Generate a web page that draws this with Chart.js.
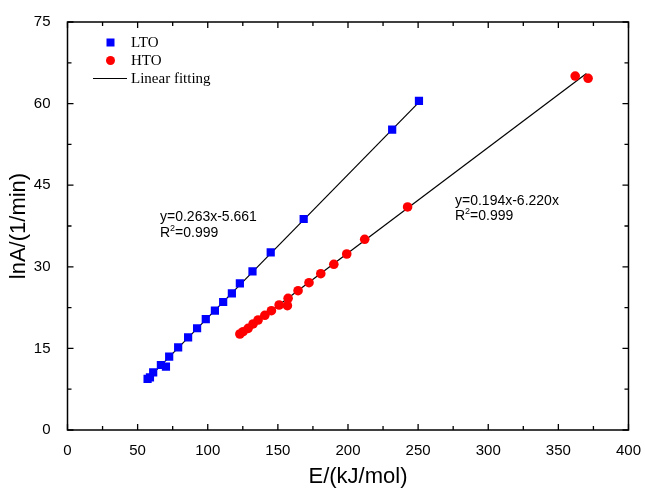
<!DOCTYPE html>
<html>
<head>
<meta charset="utf-8">
<script src="https://cdn.jsdelivr.net/npm/chart.js@4"></script>
<style>
  html, body { margin: 0; padding: 0; background: #fff; }
  #wrap { width: 645px; height: 489px; }
</style>
</head>
<body>
<div id="wrap"><canvas id="grafico" width="645" height="489"></canvas></div>
<script>
// LTO points
var ltoE = [57.1, 58.8, 61.1, 66.6, 70.2, 72.5, 78.9, 86.0, 92.4, 98.6, 105.1, 111.0, 117.2, 122.9, 131.9, 144.9, 168.4, 231.5, 250.6];
var ltoLnA = [9.38, 9.69, 10.61, 11.95, 11.64, 13.47, 15.2, 17.04, 18.7, 20.4, 21.93, 23.53, 25.13, 26.97, 29.17, 32.67, 38.79, 55.2, 60.5];

// HTO points
var htoE = [122.9, 125.2, 128.8, 132.3, 135.9, 140.7, 145.4, 150.9, 157.3, 156.8, 164.4, 172.2, 180.6, 189.9, 199.1, 211.9, 242.5, 362.0, 371.2];
var htoLnA = [17.65, 18.07, 18.69, 19.49, 20.22, 21.08, 21.93, 22.98, 24.21, 22.85, 25.61, 27.08, 28.73, 30.46, 32.35, 35.06, 41.0, 65.07, 64.65];

// fitted lines (end points)
var ltoFitE = [56.7, 251.0];
var ltoFitLnA = [9.25, 60.35];
var htoFitE = [123.0, 370.0];
var htoFitLnA = [17.6, 65.55];

var xTicks = [0, 50, 100, 150, 200, 250, 300, 350, 400];
var yTicks = [0, 15, 30, 45, 60, 75];

var legendLabels = ["LTO", "HTO", "Linear fitting"];
var eqLto = ["y=0.263x-5.661", "0.999"];
var eqHto = ["y=0.194x-6.220x", "0.999"];

function pares(xs, ys) {
    var out = [];
    for (var i = 0; i < xs.length; i++) {
        out.push({ x: xs[i], y: ys[i] });
    }
    return out;
}

function escreveR2(ctx, x, y, valor) {
    ctx.font = "14px 'Liberation Sans', Arial, sans-serif";
    ctx.fillText("R", x, y);
    var w = ctx.measureText("R").width;
    ctx.font = "9px 'Liberation Sans', Arial, sans-serif";
    ctx.fillText("2", x + w, y - 6);
    var w2 = ctx.measureText("2").width;
    ctx.font = "14px 'Liberation Sans', Arial, sans-serif";
    ctx.fillText("=" + valor, x + w + w2, y);
}

var moldura = {
    id: "moldura",
    afterDraw: function (chart) {
        var ctx = chart.ctx;
        var a = chart.chartArea;
        var sx = chart.scales.x;
        var sy = chart.scales.y;

        ctx.save();
        ctx.strokeStyle = "#000";
        ctx.lineWidth = 1.5;
        ctx.strokeRect(a.left, a.top, a.right - a.left, a.bottom - a.top);

        // ticks pointing inwards, major + minor
        ctx.lineWidth = 1.3;
        ctx.beginPath();
        for (var v = 0; v <= 400; v += 25) {
            var px = sx.getPixelForValue(v);
            var len = (v % 50 === 0) ? 6 : 4;
            ctx.moveTo(px, a.bottom);
            ctx.lineTo(px, a.bottom - len);
            ctx.moveTo(px, a.top);
            ctx.lineTo(px, a.top + len);
        }
        for (var w = 0; w <= 75; w += 7.5) {
            var py = sy.getPixelForValue(w);
            var len2 = (w % 15 === 0) ? 6 : 4;
            ctx.moveTo(a.left, py);
            ctx.lineTo(a.left + len2, py);
            ctx.moveTo(a.right, py);
            ctx.lineTo(a.right - len2, py);
        }
        ctx.stroke();

        // axis titles
        ctx.fillStyle = "#000";
        ctx.font = "22px 'Liberation Sans', Arial, sans-serif";
        ctx.textAlign = "center";
        ctx.textBaseline = "middle";
        ctx.fillText("E/(kJ/mol)", 358, 477);
        ctx.save();
        ctx.translate(19, 226);
        ctx.rotate(-Math.PI / 2);
        ctx.fillText("lnA/(1/min)", 0, 0);
        ctx.restore();

        // legend
        ctx.textAlign = "left";
        ctx.textBaseline = "alphabetic";
        ctx.font = "15px 'Liberation Serif', 'Times New Roman', serif";
        ctx.fillStyle = "#0000ff";
        ctx.fillRect(106.5, 38.5, 8, 8);
        ctx.fillStyle = "#ff0000";
        ctx.beginPath();
        ctx.arc(110.5, 60.5, 4.5, 0, Math.PI * 2);
        ctx.fill();
        ctx.strokeStyle = "#000";
        ctx.lineWidth = 1;
        ctx.beginPath();
        ctx.moveTo(93, 78.5);
        ctx.lineTo(127, 78.5);
        ctx.stroke();
        ctx.fillStyle = "#000";
        ctx.fillText(legendLabels[0], 131, 47);
        ctx.fillText(legendLabels[1], 131, 65);
        ctx.fillText(legendLabels[2], 131, 83);

        // equations
        ctx.font = "14px 'Liberation Sans', Arial, sans-serif";
        ctx.fillText(eqLto[0], 160, 221);
        escreveR2(ctx, 160, 237, eqLto[1]);
        ctx.font = "14px 'Liberation Sans', Arial, sans-serif";
        ctx.fillText(eqHto[0], 455, 205);
        escreveR2(ctx, 455, 220, eqHto[1]);

        ctx.restore();
    }
};

new Chart(document.getElementById("grafico"), {
    type: "scatter",
    data: {
        datasets: [
            {
                label: "LTO fit",
                data: pares(ltoFitE, ltoFitLnA),
                showLine: true,
                borderColor: "#000",
                borderWidth: 1.2,
                pointRadius: 0,
                order: 2
            },
            {
                label: "HTO fit",
                data: pares(htoFitE, htoFitLnA),
                showLine: true,
                borderColor: "#000",
                borderWidth: 1.2,
                pointRadius: 0,
                order: 2
            },
            {
                label: "LTO",
                data: pares(ltoE, ltoLnA),
                pointStyle: "rect",
                pointRadius: 5.8,
                backgroundColor: "#0000ff",
                borderColor: "#0000ff",
                borderWidth: 0,
                order: 1
            },
            {
                label: "HTO",
                data: pares(htoE, htoLnA),
                pointStyle: "circle",
                pointRadius: 4.8,
                backgroundColor: "#ff0000",
                borderColor: "#ff0000",
                borderWidth: 0,
                order: 1
            }
        ]
    },
    options: {
        responsive: false,
        animation: false,
        events: [],
        layout: { padding: { top: 22, right: 16, left: 0, bottom: 0 } },
        plugins: {
            legend: { display: false },
            tooltip: { enabled: false }
        },
        scales: {
            x: {
                type: "linear",
                min: 0,
                max: 400,
                afterBuildTicks: function (scale) {
                    scale.ticks = xTicks.map(function (v) { return { value: v }; });
                },
                afterFit: function (scale) { scale.height = 59; },
                grid: { display: false },
                border: { display: false },
                ticks: {
                    color: "#000",
                    padding: 4,
                    maxRotation: 0,
                    font: { family: "'Liberation Sans', Arial, sans-serif", size: 15 }
                }
            },
            y: {
                type: "linear",
                min: 0,
                max: 75,
                afterBuildTicks: function (scale) {
                    scale.ticks = yTicks.map(function (v) { return { value: v }; });
                },
                afterFit: function (scale) { scale.width = 67.5; },
                grid: { display: false },
                border: { display: false },
                ticks: {
                    color: "#000",
                    padding: 9,
                    font: { family: "'Liberation Sans', Arial, sans-serif", size: 15 }
                }
            }
        }
    },
    plugins: [moldura]
});
</script>
</body>
</html>
